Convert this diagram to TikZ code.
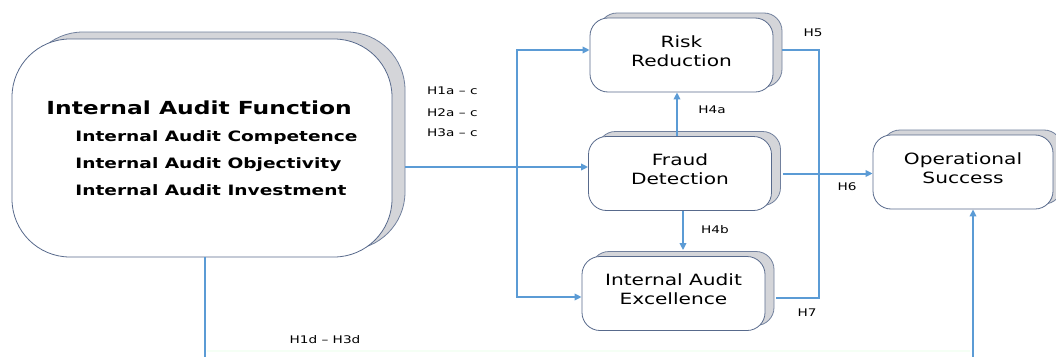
\documentclass[tikz,border=0pt]{standalone}
\usepackage{fontspec}
\setmainfont{DejaVu Sans}[FakeStretch=1.3]
\usetikzlibrary{arrows.meta, shadows}

\definecolor{linkblue}{RGB}{91,155,213}
\definecolor{boxline}{RGB}{88,106,140}
\definecolor{shadowgray}{RGB}{212,213,217}

\begin{document}
\begin{tikzpicture}[
    x=1pt, y=-1pt,
    >={Triangle[length=7pt, width=6.5pt]},
    box/.style={draw=boxline, fill=white, rounded corners=18pt, line width=0.8pt,
        minimum width=183pt, minimum height=74pt, inner sep=0pt, align=center,
        font=\fontsize{15.5}{19}\selectfont,
        copy shadow={shadow xshift=9pt, shadow yshift=5pt, fill=shadowgray, draw=boxline!85}},
    bigbox/.style={draw=boxline, fill=white, rounded corners=58pt, line width=0.8pt,
        minimum width=380pt, minimum height=218pt, inner sep=0pt, align=left,
        font=\bfseries\fontsize{14.3}{17}\selectfont,
        copy shadow={shadow xshift=13pt, shadow yshift=7pt, fill=shadowgray, draw=boxline!85}},
    link/.style={draw=linkblue, line width=2.8pt},
    thin link/.style={draw=linkblue, line width=2pt},
    hyp/.style={font=\fontsize{10.5}{12}\selectfont, inner sep=0pt}
]
    \path[use as bounding box, fill=white] (0,0) rectangle (1056,356);
    \clip (0,0) rectangle (1056,356);

    % constructs
    \node[bigbox] (iaf) at (202,148) {{\fontsize{18}{22}\selectfont Internal Audit Function}\\[10pt]
        \hspace*{29pt}Internal Audit Competence\\[10pt]
        \hspace*{29pt}Internal Audit Objectivity\\[10pt]
        \hspace*{29pt}Internal Audit Investment};
    \node[box] (rr) at (681.5,55) {Risk\\Reduction\\[-11pt]};
    \node[box] (fd) at (680,173.5) {Fraud\\Detection\\[-11pt]};
    \node[box] (iae) at (673.5,293.5) {Internal Audit\\Excellence\\[-11pt]};
    \node[box, minimum width=180pt] (os) at (963,172) {Operational\\Success\\[-11pt]};

    % helper points
    \coordinate (split) at (517,167);
    \coordinate (loopx) at (819,175);
    \coordinate (base) at (590,380);
    \coordinate (iafout) at ([xshift=13pt]iaf.east);
    \coordinate (iafbot) at ([xshift=3pt]iaf.south);
    \coordinate (rrin) at ([yshift=5pt]rr.west);
    \coordinate (iaein) at ([yshift=-3.5pt]iae.west);
    \coordinate (fdtop) at ([xshift=-3pt]fd.north);
    \coordinate (fdbot) at ([xshift=3pt]fd.south);
    \coordinate (iaetop) at ([yshift=6pt]iae.north);
    \coordinate (rrout) at ([xshift=9pt, yshift=5pt]rr.east);
    \coordinate (iaeout) at ([xshift=11pt, yshift=-4.5pt]iae.east);
    \coordinate (fdout) at ([xshift=11pt]fd.east);
    \coordinate (osin) at ([xshift=10pt]os.south);

    % connectors
    \draw[link, ->] (iafout |- split) -- (split -| fd.west);
    \draw[link, ->] (split) |- (rrin);
    \draw[link, ->] (split) |- (iaein);
    \draw[link, ->] (fdtop) -- (fdtop |- rr.south);
    \draw[link, ->] (fdbot) -- (fdbot |- iaetop);
    \draw[thin link] (rrout) -| (loopx) |- (iaeout);
    \draw[thin link, ->] (fdout) -- (fdout -| os.west);
    \draw[link, ->] (iafbot) |- (base) -| (osin);
    \draw[green!4, line width=1.5pt] (207,351) -- (970,351);

    % hypothesis labels
    \node[hyp, anchor=west] (h1) at (427,91) {H1a \textendash{} c};
    \node[hyp, anchor=west] (h2) at (427,113) {H2a \textendash{} c};
    \node[hyp, anchor=west] (h3) at (427,133) {H3a \textendash{} c};
    \node[hyp] (h4a) at (712,110) {H4a};
    \node[hyp] (h4b) at (715,230) {H4b};
    \node[hyp] (h5) at (813,33) {H5};
    \node[hyp] (h6) at (847,187) {H6};
    \node[hyp] (h7) at (807,313) {H7};
    \node[hyp] (h1d) at (325,340) {H1d \textendash{} H3d};
\end{tikzpicture}
\end{document}
